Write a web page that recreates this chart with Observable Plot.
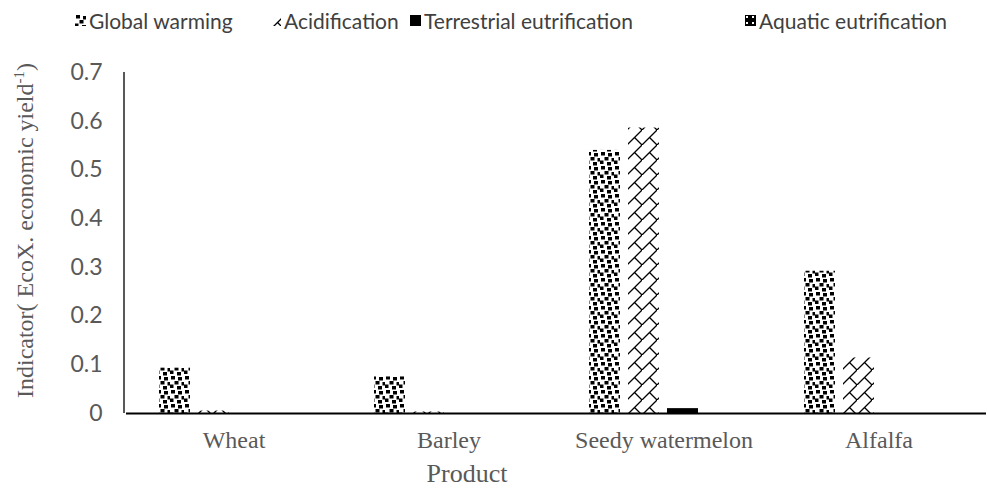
<!DOCTYPE html>
<html><head><meta charset="utf-8">
<script src="https://cdn.jsdelivr.net/npm/d3@7"></script>
<script src="https://cdn.jsdelivr.net/npm/@observablehq/plot@0.6"></script>
<style>
body{margin:0;background:#fff;width:987px;height:489px;overflow:hidden;font-family:Lato,sans-serif}
#legend{height:40px;position:relative}
.item{position:absolute;top:6px;height:28px;display:flex;align-items:center;font-size:21px;color:#404040;white-space:nowrap}
.item svg{margin-right:3px}
#chart{height:418px}
#caption{height:31px;position:relative;font-family:"Liberation Serif",serif;font-size:26px;color:#595959}
#caption span{position:absolute;left:467px;top:2px;transform:translateX(-50%);line-height:28px}
</style></head><body>
<svg width="0" height="0" style="position:absolute">
<defs>
<pattern id="pGW" patternUnits="userSpaceOnUse" width="14" height="14">
<rect width="14" height="14" fill="#fff"/>
<rect x="1" y="0" width="4" height="3.5" fill="#000"/>
<rect x="8" y="1" width="4" height="3.5" fill="#000"/>
<rect x="4.5" y="5" width="4" height="3.5" fill="#000"/>
<rect x="11.5" y="6" width="3" height="3.5" fill="#000"/>
<rect x="0" y="8.5" width="3.5" height="3.5" fill="#000"/>
<rect x="7" y="10" width="4" height="3.5" fill="#000"/>
</pattern>
<pattern id="pAC" patternUnits="userSpaceOnUse" width="15" height="15">
<rect width="15" height="15" fill="#fff"/>
<path d="M-1,16 L16,-1 M7.5,7.5 L15,15" stroke="#000" stroke-width="1.3" fill="none"/>
</pattern>
<pattern id="pAQ" patternUnits="userSpaceOnUse" width="6" height="6">
<rect width="6" height="6" fill="#000"/>
<rect x="1" y="1" width="2" height="2" fill="#fff"/>
</pattern>
</defs></svg>
<div id="legend"></div>
<div id="chart"></div>
<div id="caption"><span>Product</span></div>
<script>
const products = ["Wheat", "Barley", "Seedy watermelon", "Alfalfa"];
const seriesNames = ["Global warming", "Acidification", "Terrestrial eutrification", "Aquatic eutrification"];
const globalWarming = [0.093, 0.075, 0.54, 0.292];
const acidification = [0.005, 0.003, 0.586, 0.114];
const terrestrialEutrification = [0, 0, 0.01, 0];
const aquaticEutrification = [0, 0, 0, 0];
const yTicks = [0, 0.1, 0.2, 0.3, 0.4, 0.5, 0.6, 0.7];
const yTitle = "Indicator( EcoX. economic yield";
const yTitleSup = "-1";

const seriesFills = ["url(#pGW)", "url(#pAC)", "#000", "url(#pAQ)"];
const seriesValues = [globalWarming, acidification, terrestrialEutrification, aquaticEutrification];
const data = products.flatMap((p, i) => seriesNames.map((s, j) => ({product: p, series: s, value: seriesValues[j][i]})));

// legend
const legendLeft = [75, 270, 410, 745];
const legend = d3.select("#legend");
seriesNames.forEach((s, j) => {
  const it = legend.append("div").attr("class", "item").style("left", legendLeft[j] + "px");
  const sw = it.append("svg").attr("width", 11).attr("height", 11);
  sw.append("rect").attr("width", 11).attr("height", 11).attr("fill", seriesFills[j]);
  it.append("span").text(s);
});

const chart = Plot.plot({
  width: 987, height: 418,
  marginLeft: 124, marginRight: 0, marginTop: 32, marginBottom: 45,
  style: {fontFamily: 'Lato, sans-serif', background: "white", overflow: "visible"},
  fx: {domain: products, padding: 0},
  x: {domain: seriesNames, paddingInner: 0.2, paddingOuter: 0.8, axis: null},
  y: {domain: [0, 0.7]},
  color: {domain: seriesNames, range: seriesFills},
  marks: [
    Plot.barY(data, {fx: "product", x: "series", y: "value", fill: "series"}),
    Plot.ruleY([0], {stroke: "#000", strokeWidth: 2}),
    Plot.axisY({ticks: yTicks, tickSize: 0, tickPadding: 24, tickFormat: d => d === 0 ? "0" : d.toFixed(1),
      fontSize: 23, fill: "#595959", label: null}),
    Plot.axisFx({anchor: "bottom", tickSize: 0, tickPadding: 17, fontSize: 24,
      fontFamily: '"Liberation Serif", serif', fill: "#595959", label: null})
  ]
});
document.getElementById("chart").appendChild(chart);

const ys = chart.scale("y");
// y-axis line
d3.select(chart).append("line")
  .attr("x1", 124).attr("x2", 124)
  .attr("y1", ys.apply(0.7)).attr("y2", ys.apply(0))
  .attr("stroke", "#222").attr("stroke-width", 1.5);

// y-axis title with superscript
const yc = (ys.apply(0) + ys.apply(0.7)) / 2 - 12;
const t = d3.select(chart).append("text")
  .attr("transform", `translate(33,${yc}) rotate(-90)`)
  .attr("text-anchor", "middle")
  .attr("font-family", '"Liberation Serif", serif')
  .attr("font-size", 24)
  .attr("fill", "#595959");
t.append("tspan").text(yTitle);
t.append("tspan").attr("font-size", 15).attr("dy", -9).text(yTitleSup);
t.append("tspan").attr("dy", 9).text(")");
</script>
</body></html>
